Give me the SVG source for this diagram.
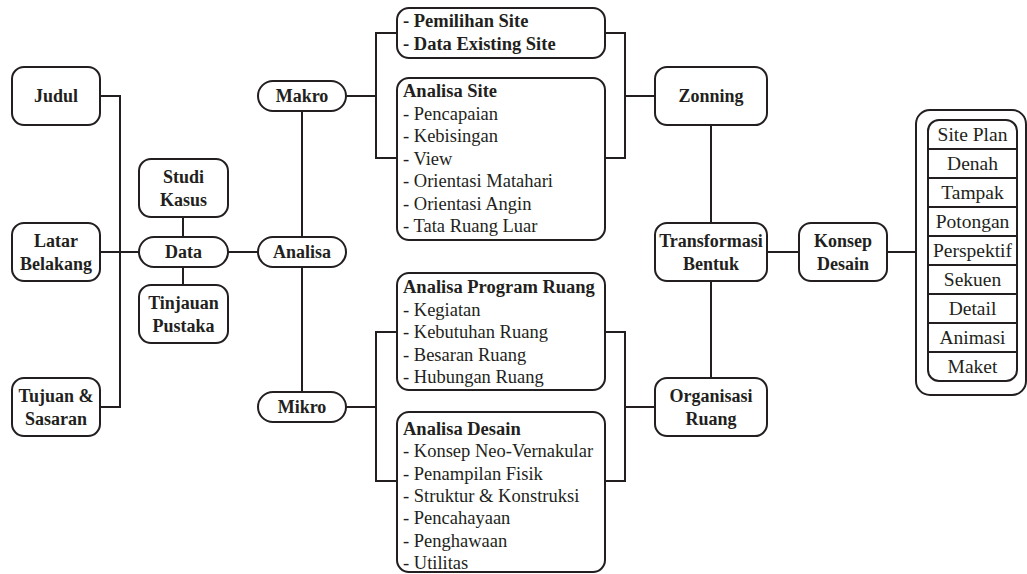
<svg xmlns="http://www.w3.org/2000/svg" width="1027" height="574" viewBox="0 0 1027 574">
<rect width="1027" height="574" fill="#fff"/>
<g id="connectors" fill="none" stroke="#231f20" stroke-width="2">
<path d="M100,96H120V407H100"/>
<path d="M100,252H139"/>
<path d="M183,217V237M183,267V285"/>
<path d="M228,252H258"/>
<path d="M302,111V237M302,267V392"/>
<path d="M346,96H376M397,33H376V158H397"/>
<path d="M605,33H625V158H605M625,96H655"/>
<path d="M346,407H376M397,332H376V481H397"/>
<path d="M605,332H625V481H605M625,407H655"/>
<path d="M711,125V223M711,281V378"/>
<path d="M767,252H799M887,252H916"/>
</g>
<g id="nodes" font-family="Liberation Serif" fill="#231f20">
<g font-size="18" font-weight="bold" text-anchor="middle" dominant-baseline="central">
<g id="judul"><rect fill="#fff" stroke="#231f20" stroke-width="2" x="12" y="67" width="88" height="58" rx="12"/><text x="56" y="96">Judul</text></g>
<g id="latar"><rect fill="#fff" stroke="#231f20" stroke-width="2" x="12" y="223" width="88" height="58" rx="12"/><text x="56" y="241">Latar</text><text x="56" y="264">Belakang</text></g>
<g id="tujuan"><rect fill="#fff" stroke="#231f20" stroke-width="2" x="12" y="378" width="88" height="58" rx="12"/><text x="56" y="396">Tujuan &amp;</text><text x="56" y="419">Sasaran</text></g>
<g id="studi"><rect fill="#fff" stroke="#231f20" stroke-width="2" x="139" y="159" width="89" height="58" rx="12"/><text x="183.5" y="177">Studi</text><text x="183.5" y="200">Kasus</text></g>
<g id="data"><rect fill="#fff" stroke="#231f20" stroke-width="2" x="139" y="237" width="89" height="30" rx="15"/><text x="183.5" y="252">Data</text></g>
<g id="tinjauan"><rect fill="#fff" stroke="#231f20" stroke-width="2" x="139" y="285" width="89" height="58" rx="12"/><text x="183.5" y="303">Tinjauan</text><text x="183.5" y="326">Pustaka</text></g>
<g id="makro"><rect fill="#fff" stroke="#231f20" stroke-width="2" x="258" y="81" width="88" height="30" rx="15"/><text x="302" y="96">Makro</text></g>
<g id="analisa"><rect fill="#fff" stroke="#231f20" stroke-width="2" x="258" y="237" width="88" height="30" rx="15"/><text x="302" y="252">Analisa</text></g>
<g id="mikro"><rect fill="#fff" stroke="#231f20" stroke-width="2" x="258" y="392" width="88" height="30" rx="15"/><text x="302" y="407">Mikro</text></g>
<g id="zonning"><rect fill="#fff" stroke="#231f20" stroke-width="2" x="655" y="67" width="112" height="58" rx="12"/><text x="711" y="96">Zonning</text></g>
<g id="transformasi"><rect fill="#fff" stroke="#231f20" stroke-width="2" x="655" y="223" width="112" height="58" rx="12"/><text x="711" y="241">Transformasi</text><text x="711" y="264">Bentuk</text></g>
<g id="organisasi"><rect fill="#fff" stroke="#231f20" stroke-width="2" x="655" y="378" width="112" height="58" rx="12"/><text x="711" y="396">Organisasi</text><text x="711" y="419">Ruang</text></g>
<g id="konsep"><rect fill="#fff" stroke="#231f20" stroke-width="2" x="799" y="223" width="88" height="58" rx="12"/><text x="843" y="241">Konsep</text><text x="843" y="264">Desain</text></g>
</g>
<g font-size="18.5">
<g id="pemilihan"><rect fill="#fff" stroke="#231f20" stroke-width="2" x="397" y="8" width="208" height="50" rx="12"/>
<text font-weight="bold" x="403" y="27">- Pemilihan Site</text><text font-weight="bold" x="403" y="50">- Data Existing Site</text></g>
<g id="analisa-site"><rect fill="#fff" stroke="#231f20" stroke-width="2" x="397" y="78" width="208" height="162" rx="12"/>
<text x="403" y="97" font-weight="bold">Analisa Site</text><text x="403" y="119.5">- Pencapaian</text><text x="403" y="142">- Kebisingan</text><text x="403" y="164.5">- View</text><text x="403" y="187">- Orientasi Matahari</text><text x="403" y="209.5">- Orientasi Angin</text><text x="403" y="232">- Tata Ruang Luar</text></g>
<g id="analisa-program"><rect fill="#fff" stroke="#231f20" stroke-width="2" x="397" y="273" width="208" height="117" rx="12"/>
<text x="403" y="293" font-weight="bold">Analisa Program Ruang</text><text x="403" y="315.5">- Kegiatan</text><text x="403" y="338">- Kebutuhan Ruang</text><text x="403" y="360.5">- Besaran Ruang</text><text x="403" y="383">- Hubungan Ruang</text></g>
<g id="analisa-desain"><rect fill="#fff" stroke="#231f20" stroke-width="2" x="397" y="412" width="208" height="160" rx="12"/>
<text x="403" y="435" font-weight="bold">Analisa Desain</text><text x="403" y="457.3">- Konsep Neo-Vernakular</text><text x="403" y="479.6">- Penampilan Fisik</text><text x="403" y="501.9">- Struktur &amp; Konstruksi</text><text x="403" y="524.2">- Pencahayaan</text><text x="403" y="546.5">- Penghawaan</text><text x="403" y="568.8">- Utilitas</text></g>
</g>
<g id="output-list" font-size="19.5" text-anchor="middle" dominant-baseline="central">
<rect fill="#fff" stroke="#231f20" stroke-width="2" x="916" y="110" width="110" height="285" rx="14"/>
<rect fill="#fff" stroke="#231f20" stroke-width="2" x="928" y="120" width="89" height="261" rx="11"/>
<path fill="none" stroke="#231f20" stroke-width="2" d="M928,149H1017M928,178H1017M928,207H1017M928,236H1017M928,265H1017M928,294H1017M928,323H1017M928,352H1017"/>
<text x="972.5" y="134.5">Site Plan</text>
<text x="972.5" y="163.5">Denah</text>
<text x="972.5" y="192.5">Tampak</text>
<text x="972.5" y="221.5">Potongan</text>
<text x="972.5" y="250.5">Perspektif</text>
<text x="972.5" y="279.5">Sekuen</text>
<text x="972.5" y="308.5">Detail</text>
<text x="972.5" y="337.5">Animasi</text>
<text x="972.5" y="366.5">Maket</text>
</g>
</g>
</svg>
